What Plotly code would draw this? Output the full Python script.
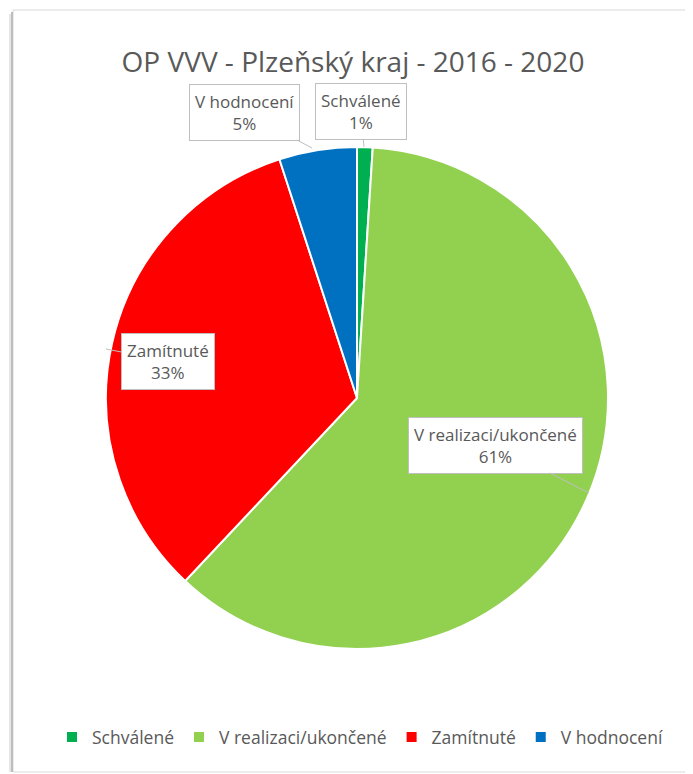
import plotly.graph_objects as go

categories = ["Schválené", "V realizaci/ukončené", "Zamítnuté", "V hodnocení"]
values = [1, 61, 33, 5]
colors = ["#00B050", "#92D050", "#FF0000", "#0070C0"]
title_text = "OP VVV - Plzeňský kraj - 2016 - 2020"

# page has an 8px body margin; figure covers window pixels 8..693 / 8..774
OFF = 8
W, H = 693 - OFF, 774 - OFF
FONT = "Open Sans, sans-serif"
TXT = "#595959"


def px(x):
    return (x - OFF) / W


def py(y):
    return 1 - (y - OFF) / H


fig = go.Figure(go.Pie(
    labels=categories,
    values=values,
    sort=False,
    direction="clockwise",
    rotation=0,
    marker=dict(colors=colors, line=dict(color="white", width=2)),
    textinfo="none",
    hoverinfo="label+percent",
    domain=dict(x=[px(106), px(608)], y=[py(649), py(147)]),
))

total = sum(values)
# callout anchor (tip, window px) and offset of label centre, in pixels
callouts = {
    "V hodnocení": ((312, 148), (-68, -36)),
    "Schválené": ((364, 147), (-3, -35)),
    "Zamítnuté": ((106, 349), (62, 12)),
    "V realizaci/ukončené": ((589, 493), (-94, -48)),
}
annotations = []
for cat, val in zip(categories, values):
    (tx, ty), (ax, ay) = callouts[cat]
    pct = round(100 * val / total)
    annotations.append(dict(
        x=px(tx), y=py(ty), xref="paper", yref="paper",
        ax=ax, ay=ay, showarrow=True, arrowhead=0, arrowwidth=1,
        arrowcolor="#BFBFBF",
        text=f"{cat}<br>{pct}%",
        font=dict(family=FONT, size=17, color=TXT),
        bgcolor="white", bordercolor="#BFBFBF", borderwidth=1, borderpad=5,
        align="center",
    ))

shapes = [
    # chart frame
    dict(type="rect", xref="paper", yref="paper", x0=px(13), x1=1.01,
         y0=py(772), y1=py(10), line=dict(color="#D9D9D9", width=1),
         fillcolor="rgba(0,0,0,0)", layer="below"),
    dict(type="line", xref="paper", yref="paper", x0=px(12), x1=px(12),
         y0=py(772), y1=py(12), line=dict(color="#BDBDBD", width=2)),
    dict(type="line", xref="paper", yref="paper", x0=px(10), x1=px(10),
         y0=py(772), y1=py(14), line=dict(color="#E6E6E6", width=2)),
]

fig.update_layout(
    width=W, height=H,
    margin=dict(l=0, r=0, t=0, b=0),
    paper_bgcolor="white",
    title=dict(text=title_text, x=px(353), xanchor="center", y=py(62),
               yanchor="middle", font=dict(family=FONT, size=28, color=TXT)),
    showlegend=True,
    legend=dict(orientation="h", x=px(360), xanchor="center", y=py(737),
                yanchor="middle", font=dict(family=FONT, size=17.5, color=TXT),
                itemwidth=30),
    annotations=annotations,
    shapes=shapes,
)

fig.write_html("out.html")
